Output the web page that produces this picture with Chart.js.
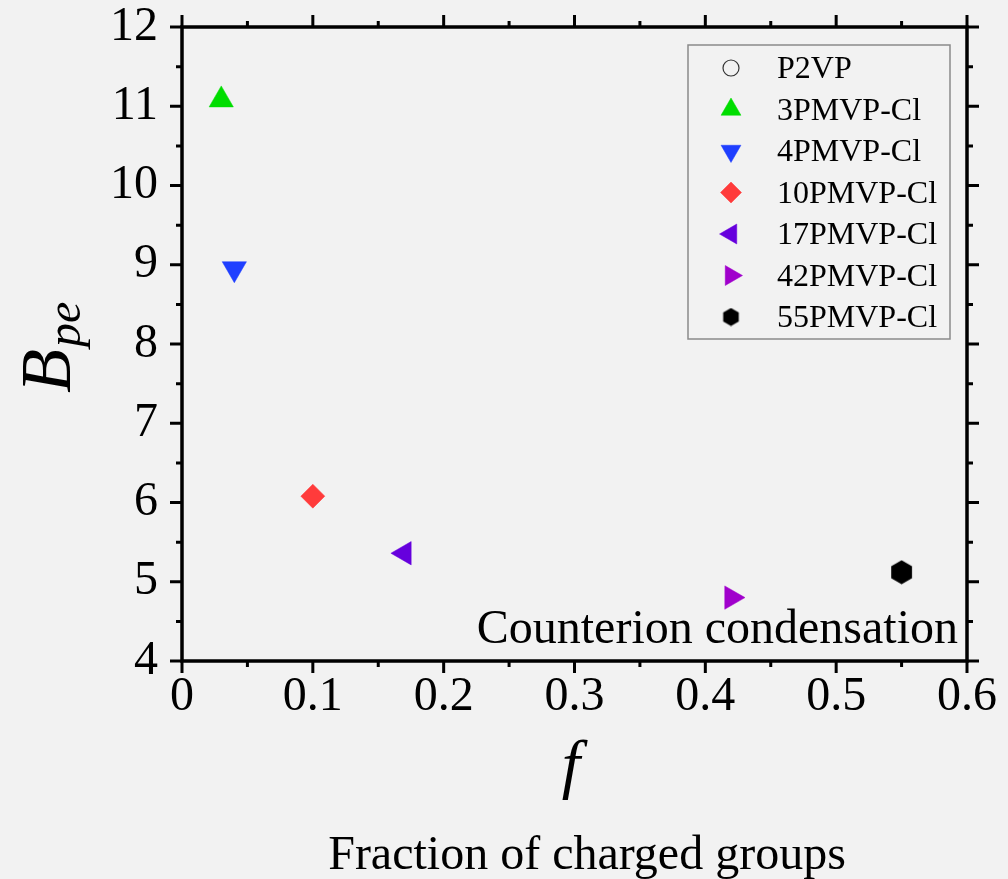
<!DOCTYPE html>
<html>
<head>
<meta charset="utf-8">
<script src="https://cdn.jsdelivr.net/npm/chart.js@4/dist/chart.umd.min.js"></script>
<style>
  html, body { margin: 0; padding: 0; background: #f2f2f2; }
  #bpeChart { display: block; }
</style>
</head>
<body>
<canvas id="bpeChart" width="1008" height="879"></canvas>
<script>
// Sample names and measured values (f = fraction of charged groups)
const sampleNames = ['P2VP', '3PMVP-Cl', '4PMVP-Cl', '10PMVP-Cl', '17PMVP-Cl', '42PMVP-Cl', '55PMVP-Cl'];
const fractionValues = [null, 0.03, 0.04, 0.10, 0.17, 0.42, 0.55];
const bpeValues = [null, 11.08, 8.95, 6.08, 5.36, 4.80, 5.12];
const markerColors = ['#333333', '#00dd00', '#1f3fff', '#ff3b3b', '#6600dd', '#a000cc', '#000000'];
const xTicks = [0, 0.1, 0.2, 0.3, 0.4, 0.5, 0.6];
const yTicks = [4, 5, 6, 7, 8, 9, 10, 11, 12];

const serif = "'Liberation Serif', 'Times New Roman', serif";

// hexagon marker, Chart.js has no built-in one
function hexCanvas(size) {
    const c = document.createElement('canvas');
    c.width = size;
    c.height = size;
    const g = c.getContext('2d');
    const r = size / 2;
    g.beginPath();
    for (let i = 0; i < 6; i++) {
        const a = Math.PI / 3 * i - Math.PI / 2;
        const px = r + Math.cos(a) * (r - 0.5);
        const py = r + Math.sin(a) * (r - 0.5);
        if (i === 0) g.moveTo(px, py); else g.lineTo(px, py);
    }
    g.closePath();
    g.fillStyle = '#000';
    g.fill();
    return c;
}
const hexBig = hexCanvas(25);
const hexSmall = hexCanvas(19);

const plotStyles = [
    { style: 'circle', rotation: 0, radius: 8, legendRadius: 8 },
    { style: 'triangle', rotation: 0, radius: 14, legendRadius: 11.5 },
    { style: 'triangle', rotation: 180, radius: 14, legendRadius: 11.5 },
    { style: 'rectRot', rotation: 0, radius: 12, legendRadius: 10.5 },
    { style: 'triangle', rotation: -90, radius: 13.5, legendRadius: 11.5 },
    { style: 'triangle', rotation: 90, radius: 13.5, legendRadius: 11.5 },
    { style: hexBig, rotation: 0, radius: 12, legendRadius: 9, legendStyle: hexSmall }
];

const datasets = sampleNames.map((name, i) => ({
    label: name,
    data: fractionValues[i] === null ? [] : [{ x: fractionValues[i], y: bpeValues[i] }],
    pointStyle: plotStyles[i].style,
    pointRotation: plotStyles[i].rotation,
    pointRadius: plotStyles[i].radius,
    pointHoverRadius: plotStyles[i].radius,
    backgroundColor: i === 0 ? 'rgba(0,0,0,0)' : markerColors[i],
    borderColor: markerColors[i],
    borderWidth: i === 0 ? 1.2 : 0.5,
    showLine: false
}));

// axis frame with major/minor ticks on all four sides
const framePlugin = {
    id: 'frame',
    afterDatasetsDraw(chart) {
        const { ctx, chartArea: a, scales } = chart;
        const major = 12, minor = 6;
        ctx.save();
        ctx.strokeStyle = '#000';
        ctx.lineWidth = 3.5;
        ctx.lineCap = 'butt';
        ctx.beginPath();
        ctx.rect(a.left, a.top, a.right - a.left, a.bottom - a.top);
        ctx.stroke();
        ctx.lineWidth = 3;
        ctx.beginPath();
        xTicks.forEach((v, i) => {
            const px = scales.x.getPixelForValue(v);
            ctx.moveTo(px, a.bottom); ctx.lineTo(px, a.bottom + major);
            ctx.moveTo(px, a.top); ctx.lineTo(px, a.top - major);
            if (i < xTicks.length - 1) {
                const mx = scales.x.getPixelForValue(v + 0.05);
                ctx.moveTo(mx, a.bottom); ctx.lineTo(mx, a.bottom + minor);
                ctx.moveTo(mx, a.top); ctx.lineTo(mx, a.top - minor);
            }
        });
        yTicks.forEach((v, i) => {
            const py = scales.y.getPixelForValue(v);
            ctx.moveTo(a.left, py); ctx.lineTo(a.left - major, py);
            ctx.moveTo(a.right, py); ctx.lineTo(a.right + major, py);
            if (i < yTicks.length - 1) {
                const my = scales.y.getPixelForValue(v + 0.5);
                ctx.moveTo(a.left, my); ctx.lineTo(a.left - minor, my);
                ctx.moveTo(a.right, my); ctx.lineTo(a.right + minor, my);
            }
        });
        ctx.stroke();
        ctx.restore();
    }
};

// axis titles, annotation and the boxed legend inside the plot
const textPlugin = {
    id: 'texts',
    afterDraw(chart) {
        const { ctx } = chart;
        ctx.save();
        ctx.fillStyle = '#000';

        // y title: B with subscript pe
        ctx.save();
        ctx.translate(70, 393);
        ctx.rotate(-Math.PI / 2);
        ctx.textAlign = 'left';
        ctx.textBaseline = 'alphabetic';
        ctx.font = 'italic 72px ' + serif;
        ctx.fillText('B', 0, 0);
        const bw = ctx.measureText('B').width;
        ctx.font = 'italic 48px ' + serif;
        ctx.fillText('pe', bw + 2, 10);
        ctx.restore();

        // x title
        ctx.textAlign = 'center';
        ctx.textBaseline = 'alphabetic';
        ctx.font = 'italic 66px ' + serif;
        ctx.fillText('f', 571, 786);
        ctx.font = '48px ' + serif;
        ctx.fillText('Fraction of charged groups', 587, 869);

        ctx.textAlign = 'right';
        ctx.fillText('Counterion condensation', 958, 643);

        // legend
        const box = { left: 688, top: 45, right: 950, bottom: 339 };
        ctx.fillStyle = '#f2f2f2';
        ctx.fillRect(box.left, box.top, box.right - box.left, box.bottom - box.top);
        ctx.strokeStyle = '#8a8a8a';
        ctx.lineWidth = 1.5;
        ctx.strokeRect(box.left, box.top, box.right - box.left, box.bottom - box.top);

        ctx.font = '32px ' + serif;
        ctx.textAlign = 'left';
        ctx.textBaseline = 'middle';
        chart.data.datasets.forEach((ds, i) => {
            const y = 68 + i * 41.5;
            const st = plotStyles[i];
            ctx.fillStyle = ds.backgroundColor;
            ctx.strokeStyle = ds.borderColor;
            ctx.lineWidth = ds.borderWidth;
            Chart.helpers.drawPoint(ctx, {
                pointStyle: st.legendStyle || st.style,
                rotation: st.rotation,
                radius: st.legendRadius,
                borderWidth: ds.borderWidth
            }, 731, y);
            ctx.fillStyle = '#000';
            ctx.fillText(ds.label, 777, y + 2);
        });
        ctx.restore();
    }
};

const chart = new Chart(document.getElementById('bpeChart'), {
    type: 'scatter',
    data: { datasets: datasets },
    options: {
        responsive: false,
        animation: false,
        layout: { padding: { top: 27, right: 41, left: 0, bottom: 0 } },
        plugins: {
            legend: { display: false },
            tooltip: { enabled: false }
        },
        scales: {
            x: {
                type: 'linear',
                min: 0,
                max: 0.6,
                afterFit: s => {
                    s.height = 218;
                    s.paddingLeft = 0;
                    s.paddingRight = 0;
                },
                afterBuildTicks: s => { s.ticks = xTicks.map(v => ({ value: v })); },
                grid: { display: false, drawTicks: false },
                border: { display: false },
                ticks: {
                    autoSkip: false,
                    maxRotation: 0,
                    padding: 8,
                    color: '#000',
                    font: { family: serif, size: 48 },
                    callback: v => String(+v.toFixed(1))
                }
            },
            y: {
                type: 'linear',
                min: 4,
                max: 12,
                afterFit: s => {
                    s.width = 182;
                    s.paddingTop = 0;
                    s.paddingBottom = 0;
                },
                afterBuildTicks: s => { s.ticks = yTicks.map(v => ({ value: v })); },
                grid: { display: false, drawTicks: false },
                border: { display: false },
                ticks: {
                    autoSkip: false,
                    padding: 24,
                    color: '#000',
                    font: { family: serif, size: 48 },
                    callback: v => String(v)
                }
            }
        }
    },
    plugins: [framePlugin, textPlugin]
});
</script>
</body>
</html>
